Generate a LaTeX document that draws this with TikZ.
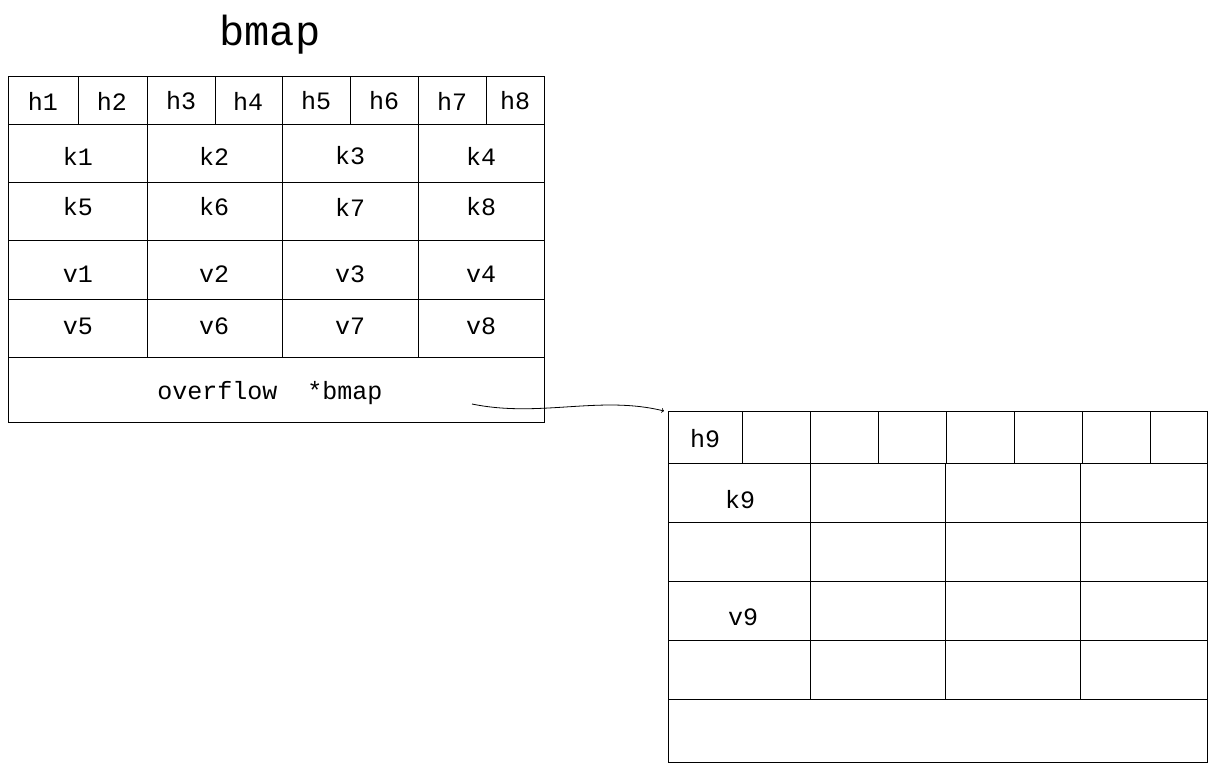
\documentclass[tikz,border=0pt]{standalone}
\usepackage{fontspec}
\setmainfont{Liberation Mono}
\begin{document}
\begin{tikzpicture}[x=1pt,y=-1pt,line width=1pt,
  lbl/.style={font=\fontsize{25}{28}\selectfont,inner sep=0pt}]
\useasboundingbox (0,0) rectangle (1214,774);
% left table
\draw (8,76) rectangle (544,422);
\foreach \y in {124,182,240,299,357} \draw (8,\y) -- (544,\y);
\foreach \x in {78,147,215,282,350,418,486} \draw (\x,76) -- (\x,124);
\foreach \x in {147,282,418} \draw (\x,124) -- (\x,357);
\node[font=\fontsize{42}{46}\selectfont,inner sep=0pt] (title) at (270,35) {bmap};
\foreach \t/\x in {h1/43,h2/112,h3/181,h4/248,h5/316,h6/384,h7/452,h8/515}
  \node[lbl] (\t) at (\x,101) {\t};
\foreach \t/\x in {1/78,2/214,3/350,4/481} {
  \node[lbl] (k\t) at (\x,156) {k\t};
  \node[lbl] (v\t) at (\x,274) {v\t};}
\foreach \t/\x in {5/78,6/214,7/350,8/481} {
  \node[lbl] (k\t) at (\x,207) {k\t};
  \node[lbl] (v\t) at (\x,326) {v\t};}
\node[lbl] (ov) at (270,393) {overflow\ \ *bmap};
% right table
\draw (668,411) rectangle (1207,762);
\foreach \y in {463,522,581,640,699} \draw (668,\y) -- (1207,\y);
\foreach \x in {742,810,878,946,1014,1082,1150} \draw (\x,411) -- (\x,463);
\foreach \x in {810,945,1080} \draw (\x,463) -- (\x,699);
\node[lbl] (h9) at (705,439) {h9};
\node[lbl] (k9) at (740,500) {k9};
\node[lbl] (v9) at (743,617) {v9};
% arrow
\coordinate (s) at (472,404);
\coordinate (e) at (664,411);
\draw[line width=0.8pt,->] (s) .. controls (540,418) and (600,395) .. (e);
\end{tikzpicture}
\end{document}
